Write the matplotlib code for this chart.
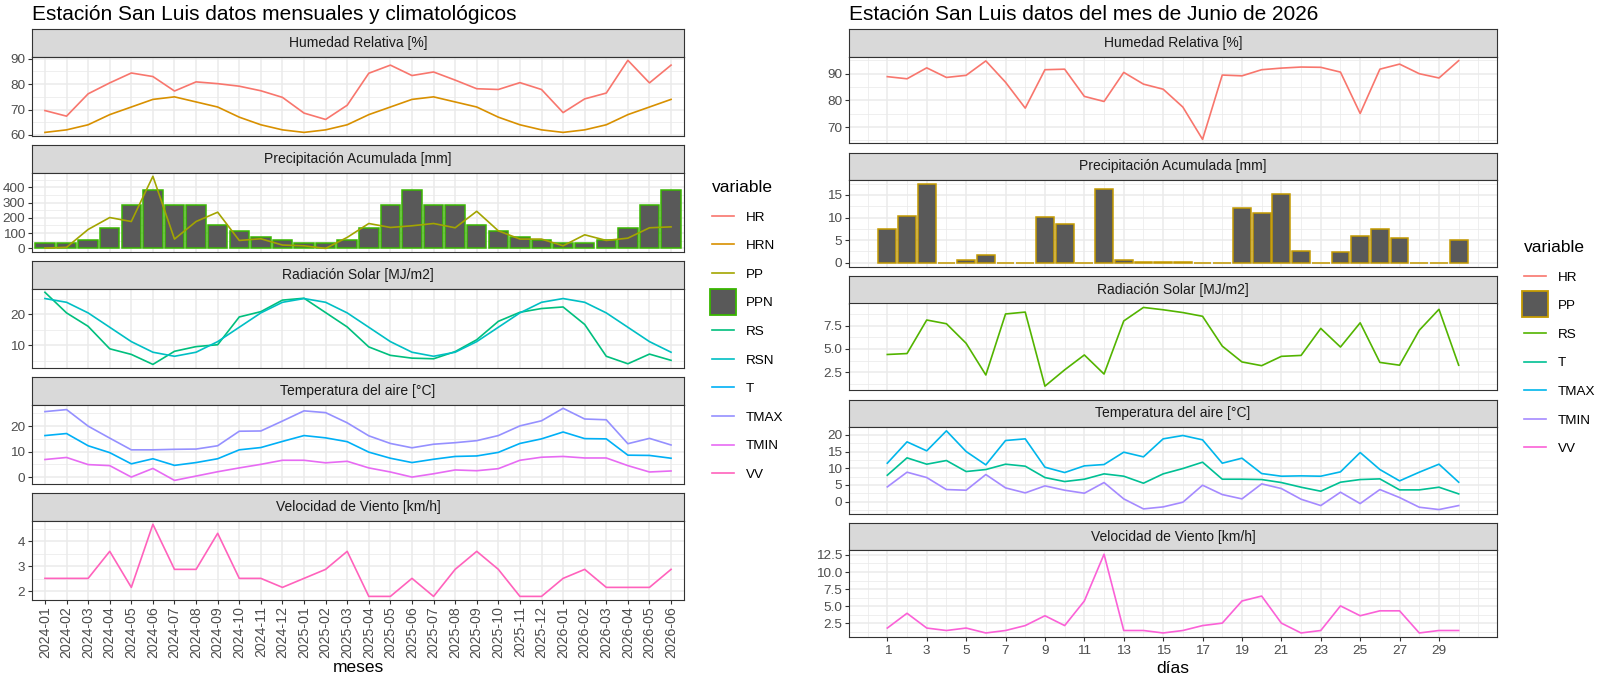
import numpy as np
import matplotlib
matplotlib.use("Agg")
import matplotlib.pyplot as plt
from matplotlib.lines import Line2D
from matplotlib.ticker import AutoMinorLocator, FormatStrFormatter

plt.rcParams['font.family'] = ['Liberation Sans', 'DejaVu Sans']

# ---- datos mensuales (2024-01 .. 2026-06) ----
meses = [f"{a}-{m:02d}" for a in (2024, 2025, 2026) for m in range(1, 13)][:30]
hr_mes = [69.6, 67.4, 76.2, 80.5, 84.4, 83.0, 77.3, 80.9, 80.2, 79.2, 77.4, 74.8,
          68.6, 66.1, 71.7, 84.3, 87.5, 83.4, 84.8, 81.6, 78.2, 77.9, 80.6, 77.9,
          68.8, 74.2, 76.5, 89.4, 80.5, 87.5]
hrn_mes = [61, 62, 64, 68, 71, 74, 75, 73, 71, 67, 64, 62,
           61, 62, 64, 68, 71, 74, 75, 73, 71, 67, 64, 62,
           61, 62, 64, 68, 71, 74]
pp_mes = [2, 7, 124, 202, 176, 472, 61, 176, 237, 52, 63, 22,
          17, 0, 72, 163, 137, 148, 163, 135, 243, 115, 61, 61,
          17, 89, 52, 67, 135, 141]
ppn_mes = [37, 37, 57, 135, 285, 380, 285, 285, 152, 117, 76, 57,
           37, 37, 57, 135, 285, 380, 285, 285, 152, 117, 76, 57,
           37, 37, 57, 135, 285, 380]
rs_mes = [27.0, 20.4, 16.1, 8.9, 7.1, 3.9, 8.1, 9.6, 10.2, 19.1, 20.8, 24.5,
          25.1, 20.5, 15.9, 9.5, 6.8, 5.9, 5.7, 8.0, 11.8, 17.7, 20.6, 21.8,
          22.3, 16.7, 6.5, 4.1, 7.2, 5.2]
rsn_mes = [25.0, 23.8, 20.4, 15.8, 11.2, 7.8, 6.5, 7.8, 11.2, 15.8, 20.4, 23.8,
           25.0, 23.8, 20.4, 15.8, 11.2, 7.8, 6.5, 7.8, 11.2, 15.8, 20.4, 23.8,
           25.0, 23.8, 20.4, 15.8, 11.2, 7.8]
tmax_mes = [25.7, 26.5, 20.0, 15.3, 10.7, 10.7, 10.9, 11.0, 12.3, 18.0, 18.1, 22.0,
            26.0, 25.3, 21.3, 16.2, 13.2, 11.5, 12.9, 13.5, 14.3, 16.3, 20.1, 22.1,
            27.0, 22.8, 22.5, 13.1, 15.2, 12.6]
t_mes = [16.3, 17.1, 12.3, 9.6, 5.2, 7.2, 4.6, 5.7, 7.2, 10.7, 11.6, 14.0,
         16.3, 15.4, 13.9, 9.8, 7.4, 5.7, 7.0, 8.1, 8.3, 9.7, 13.2, 15.0,
         17.7, 15.1, 15.0, 8.6, 8.5, 7.4]
tmin_mes = [6.9, 7.7, 4.9, 4.5, 0.0, 3.4, -1.3, 0.4, 2.1, 3.6, 5.0, 6.6,
            6.6, 5.6, 6.2, 3.6, 2.0, 0.0, 1.3, 2.8, 2.5, 3.3, 6.6, 7.8,
            8.1, 7.5, 7.5, 4.5, 2.0, 2.4]
vv_mes = [2.52, 2.52, 2.52, 3.6, 2.16, 4.68, 2.88, 2.88, 4.32, 2.52, 2.52, 2.16,
          2.52, 2.88, 3.6, 1.8, 1.8, 2.52, 1.8, 2.88, 3.6, 2.88, 1.8, 1.8,
          2.52, 2.88, 2.16, 2.16, 2.16, 2.88]

# ---- datos diarios junio 2026 ----
dias = list(range(1, 31))
hr_dia = [88.9, 88.1, 92.2, 88.6, 89.4, 94.8, 86.8, 77.1, 91.5, 91.7, 81.5, 79.6,
          90.5, 86.1, 84.2, 77.5, 65.4, 89.5, 89.2, 91.5, 92.1, 92.5, 92.4, 90.6,
          75.1, 91.7, 93.6, 90.0, 88.4, 94.9]
pp_dia = [7.5, 10.3, 17.4, 0, 0.7, 1.7, 0, 0, 10.1, 8.5, 0, 16.4,
          0.7, 0.2, 0.1, 0.2, 0, 0, 12.1, 11.0, 15.2, 2.7, 0, 2.4,
          6.0, 7.5, 5.4, 0, 0, 5.1]
rs_dia = [4.4, 4.5, 8.1, 7.7, 5.6, 2.2, 8.75, 8.95, 1.0, 2.75, 4.35, 2.3,
          8.0, 9.45, 9.2, 8.9, 8.5, 5.3, 3.6, 3.2, 4.2, 4.3, 7.2, 5.2,
          7.8, 3.55, 3.25, 7.0, 9.25, 3.25]
tmax_dia = [11.5, 17.9, 15.2, 21.2, 15.0, 11.0, 18.3, 18.8, 10.3, 8.7, 10.7, 11.1,
            14.8, 13.4, 18.8, 19.8, 18.5, 11.5, 13.0, 8.4, 7.6, 7.7, 7.6, 8.9,
            14.7, 9.6, 6.2, 8.8, 11.2, 5.8]
t_dia = [7.9, 13.1, 11.2, 12.3, 9.0, 9.6, 11.2, 10.6, 7.2, 6.0, 6.7, 8.3,
         7.6, 5.5, 8.3, 9.9, 11.8, 6.7, 6.7, 6.6, 5.7, 4.3, 3.1, 5.8,
         6.6, 6.8, 3.5, 3.5, 4.3, 2.3]
tmin_dia = [4.4, 8.8, 7.2, 3.6, 3.4, 8.1, 4.1, 2.6, 4.7, 3.4, 2.5, 5.7,
            0.8, -2.2, -1.6, -0.2, 4.9, 2.1, 0.8, 5.3, 3.9, 0.7, -1.2, 2.8,
            -0.6, 3.6, 1.2, -1.7, -2.4, -1.2]
vv_dia = [1.8, 3.96, 1.8, 1.44, 1.8, 1.08, 1.44, 2.16, 3.6, 2.16, 5.76, 12.6,
          1.44, 1.44, 1.08, 1.44, 2.16, 2.52, 5.76, 6.48, 2.52, 1.08, 1.44, 5.04,
          3.6, 4.32, 4.32, 1.08, 1.44, 1.44]

paneles = ["Humedad Relativa [%]", "Precipitación Acumulada [mm]",
           "Radiación Solar [MJ/m2]", "Temperatura del aire [°C]",
           "Velocidad de Viento [km/h]"]

# colores ggplot (hue_pal)
col_izq = {'HR': '#F8766D', 'HRN': '#D89000', 'PP': '#A3A500', 'PPN': '#39B600',
           'RS': '#00BF7D', 'RSN': '#00BFC4', 'T': '#00B0F6', 'TMAX': '#9590FF',
           'TMIN': '#E76BF3', 'VV': '#FF62BC'}
col_der = {'HR': '#F8766D', 'PP': '#C49A00', 'RS': '#53B400', 'T': '#00C094',
           'TMAX': '#00B6EB', 'TMIN': '#A58AFF', 'VV': '#FB61D7'}
BAR_FILL = '#595959'

W, H = 1600, 676
fig = plt.figure(figsize=(W / 100, H / 100), dpi=100)


def box(x0, y0, x1, y1):
    return [x0 / W, 1 - y1 / H, (x1 - x0) / W, (y1 - y0) / H]


def limites(*series):
    v = np.concatenate([np.asarray(s, float) for s in series])
    lo, hi = v.min(), v.max()
    pad = 0.05 * (hi - lo)
    return lo - pad, hi + pad


def estilo(ax):
    ax.set_facecolor('white')
    for sp in ax.spines.values():
        sp.set_color('#333333')
        sp.set_linewidth(0.8)
    ax.set_axisbelow(True)
    ax.grid(True, which='major', color='#EBEBEB', lw=1.1)
    ax.grid(True, which='minor', color='#EBEBEB', lw=0.55)
    ax.tick_params(which='major', length=2.9, width=0.8, color='#333333',
                   labelsize=9.7, labelcolor='#4D4D4D', pad=2)
    ax.tick_params(which='minor', length=0)
    ax.yaxis.set_minor_locator(AutoMinorLocator(2))


def crear_paneles(g):
    axs = []
    for k, nombre in enumerate(paneles):
        t = g['top'] + k * g['pitch']
        s = fig.add_axes(box(g['x0'], t, g['x1'], t + g['strip']))
        s.set_facecolor('#D9D9D9')
        s.set_xticks([])
        s.set_yticks([])
        for sp in s.spines.values():
            sp.set_color('#333333')
            sp.set_linewidth(0.8)
        s.text(0.5, 0.5, nombre, ha='center', va='center', fontsize=10,
               color='#1A1A1A', transform=s.transAxes)
        ax = fig.add_axes(box(g['x0'], t + g['strip'], g['x1'],
                              t + g['strip'] + g['panel']))
        estilo(ax)
        axs.append(ax)
    return axs


IZQ = dict(x0=32, x1=684, top=29.3, pitch=116.0, strip=27.4, panel=79.3)
DER = dict(x0=849, x1=1497, top=29.3, pitch=123.4, strip=27.4, panel=86.6)
LW = 1.2

# ================= izquierda: mensual =================
ax_l = crear_paneles(IZQ)
xm = np.arange(len(meses))

ax_l[0].plot(xm, hr_mes, color=col_izq['HR'], lw=LW)
ax_l[0].plot(xm, hrn_mes, color=col_izq['HRN'], lw=LW)
ax_l[0].set_ylim(limites(hr_mes, hrn_mes))
ax_l[0].set_yticks([60, 70, 80, 90])

ax_l[1].bar(xm, ppn_mes, width=0.9, color=BAR_FILL, edgecolor=col_izq['PPN'], lw=1.1)
ax_l[1].plot(xm, pp_mes, color=col_izq['PP'], lw=LW)
ax_l[1].set_ylim(limites([0], pp_mes, ppn_mes))
ax_l[1].set_yticks([0, 100, 200, 300, 400])

ax_l[2].plot(xm, rs_mes, color=col_izq['RS'], lw=LW)
ax_l[2].plot(xm, rsn_mes, color=col_izq['RSN'], lw=LW)
ax_l[2].set_ylim(limites(rs_mes, rsn_mes))
ax_l[2].set_yticks([10, 20])

ax_l[3].plot(xm, t_mes, color=col_izq['T'], lw=LW)
ax_l[3].plot(xm, tmax_mes, color=col_izq['TMAX'], lw=LW)
ax_l[3].plot(xm, tmin_mes, color=col_izq['TMIN'], lw=LW)
ax_l[3].set_ylim(limites(t_mes, tmax_mes, tmin_mes))
ax_l[3].set_yticks([0, 10, 20])

ax_l[4].plot(xm, vv_mes, color=col_izq['VV'], lw=LW)
ax_l[4].set_ylim(limites(vv_mes))
ax_l[4].set_yticks([2, 3, 4])

for i, ax in enumerate(ax_l):
    ax.set_xlim(-0.6, len(meses) - 1 + 0.6)
    ax.set_xticks(xm)
    if i < 4:
        ax.tick_params(axis='x', length=0, labelbottom=False)
ax_l[4].set_xticklabels(meses, rotation=90, ha='center', va='top', fontsize=10.2)
ax_l[4].tick_params(axis='x', pad=1.5)
ax_l[4].set_xlabel('meses', fontsize=12.5, labelpad=1)

fig.text(32 / W, 1 - 20 / H, 'Estación San Luis datos mensuales y climatológicos',
         fontsize=15, ha='left', va='baseline')

# ================= derecha: diario =================
ax_r = crear_paneles(DER)
xd = np.array(dias)

ax_r[0].plot(xd, hr_dia, color=col_der['HR'], lw=LW)
ax_r[0].set_ylim(limites(hr_dia))
ax_r[0].set_yticks([70, 80, 90])

ax_r[1].bar(xd, pp_dia, width=0.9, color=BAR_FILL, edgecolor=col_der['PP'], lw=1.1)
ax_r[1].set_ylim(limites([0], pp_dia))
ax_r[1].set_yticks([0, 5, 10, 15])

ax_r[2].plot(xd, rs_dia, color=col_der['RS'], lw=LW)
ax_r[2].set_ylim(limites(rs_dia))
ax_r[2].set_yticks([2.5, 5.0, 7.5])
ax_r[2].yaxis.set_major_formatter(FormatStrFormatter('%.1f'))

ax_r[3].plot(xd, t_dia, color=col_der['T'], lw=LW)
ax_r[3].plot(xd, tmax_dia, color=col_der['TMAX'], lw=LW)
ax_r[3].plot(xd, tmin_dia, color=col_der['TMIN'], lw=LW)
ax_r[3].set_ylim(limites(t_dia, tmax_dia, tmin_dia))
ax_r[3].set_yticks([0, 5, 10, 15, 20])

ax_r[4].plot(xd, vv_dia, color=col_der['VV'], lw=LW)
ax_r[4].set_ylim(limites(vv_dia))
ax_r[4].set_yticks([2.5, 5.0, 7.5, 10.0, 12.5])
ax_r[4].yaxis.set_major_formatter(FormatStrFormatter('%.1f'))

xlo, xhi = limites([xd[0] - 0.45, xd[-1] + 0.45])
for i, ax in enumerate(ax_r):
    ax.set_xlim(xlo, xhi)
    ax.set_xticks(xd[::2])
    ax.set_xticks(list(range(0, 31, 2)) + [31], minor=True)
    if i < 4:
        ax.tick_params(axis='x', length=0, labelbottom=False)
ax_r[4].tick_params(axis='x', pad=3)
ax_r[4].set_xlabel('días', fontsize=12.5, labelpad=3)

fig.text(849 / W, 1 - 20 / H, 'Estación San Luis datos del mes de Junio de 2026',
         fontsize=15, ha='left', va='baseline')


# ================= leyendas =================
def leyenda(colores, caja, x, y):
    handles = []
    for nombre, c in colores.items():
        if nombre == caja:
            handles.append(Line2D([], [], ls='none', marker='s', markersize=18.5,
                                  markerfacecolor=BAR_FILL, markeredgecolor=c,
                                  markeredgewidth=1.3, label=nombre))
        else:
            handles.append(Line2D([], [], color=c, lw=LW, label=nombre))
    fig.legend(handles=handles, loc='upper left', bbox_to_anchor=(x / W, 1 - y / H),
               frameon=False, title='variable', title_fontsize=12.5, fontsize=9.7,
               handlelength=1.63, handletextpad=0.89, labelspacing=1.2,
               borderpad=0, borderaxespad=0, alignment='left')


leyenda(col_izq, 'PPN', 712, 180)
leyenda(col_der, 'PP', 1524, 240)

fig.savefig('out.png', dpi=100)
